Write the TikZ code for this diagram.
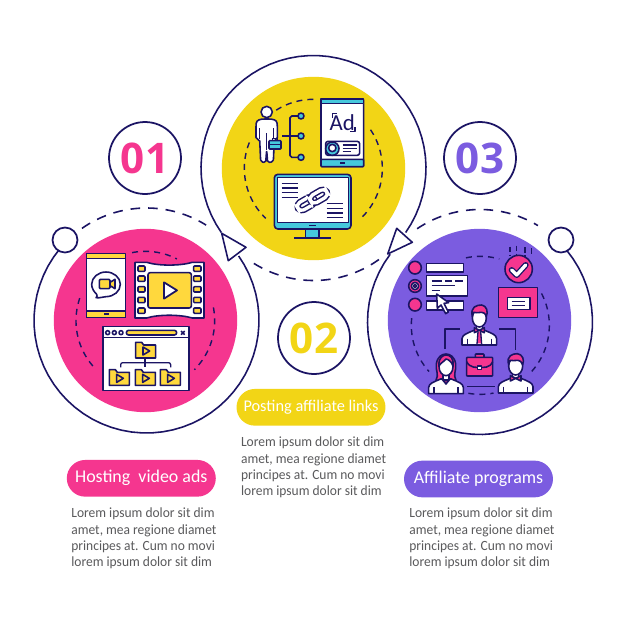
\documentclass[tikz,border=0pt]{standalone}
\usepackage{fontspec}
\setmainfont{Carlito}
\newfontfamily\bodyf{Carlito}
\newfontfamily\paraf[FakeStretch=0.96]{Carlito}
\newfontfamily\numf{Open Sans}
\definecolor{navy}{HTML}{1B1464}
\definecolor{cpink}{HTML}{F5368F}
\definecolor{cyellow}{HTML}{F2D516}
\definecolor{cpurple}{HTML}{7B5CE0}
\definecolor{iyellow}{HTML}{FFD83D}
\definecolor{icyan}{HTML}{46C8DC}
\definecolor{gtext}{HTML}{5A5A5C}
\tikzset{
 ln/.style={draw=navy,line width=0.9pt,line join=round},
 thin ln/.style={draw=navy,line width=0.75pt,line join=round},
 bigdisc/.style={circle,minimum size=3.668cm,inner sep=0pt},
 numring/.style={circle,draw=navy,line width=1pt,fill=white,minimum size=1.44cm,inner sep=0pt},
 numtext/.style={font=\numf\bfseries\fontsize{24}{24}\selectfont},
 pill/.style={minimum width=2.98cm,minimum height=0.734cm,rounded corners=0.367cm,inner sep=0pt,text=white,font=\bodyf\fontsize{10.2}{11}\selectfont},
 para/.style={anchor=north west,align=left,inner sep=0pt,text=gtext,font=\paraf\fontsize{8}{9.35}\selectfont},
 outerdash/.style={draw=navy,line width=0.9pt,dash pattern=on 5.5pt off 4.5pt},
 innerdash/.style={draw=navy,line width=0.8pt,dash pattern=on 3.4pt off 2.9pt},
 knob/.style={circle,draw=navy,line width=1pt,fill=white,minimum size=0.5cm,inner sep=0pt},
}
\newcommand{\arcp}[6]{\draw[#6] plot[domain=#4:#5,samples=50] ({#1+#3*cos(\x)},{#2-#3*sin(\x)});}
\newcommand{\folderic}[2]{%
 \begin{scope}[shift={(#1,#2)}]
 \draw[ln,fill=iyellow] (0,0) -- (0,47) -- (60,47) -- (60,8) -- (24,8) -- (18,0) -- cycle;
 \draw[ln] (22,14) -- (22,38) -- (42,26) -- cycle;
 \end{scope}}
\newcommand{\pers}[3]{%
 \begin{scope}[shift={(#1,#2)}]
 #3
 \draw[ln,fill=white] (-52,81) -- (-52,62) .. controls (-50,50) and (-40,47) .. (-16,37) -- (16,37) .. controls (40,47) and (50,50) .. (52,62) -- (52,81) -- cycle;
 \draw[ln] (-36,62) -- (-36,81) (36,62) -- (36,81);
 \draw[ln,fill=white] (-9,18) -- (-9,38) -- (9,38) -- (9,18);
 \draw[ln,fill=white] (0,0) ellipse (21 and 27);
 \end{scope}}
\begin{document}
\begin{tikzpicture}[x=0.02cm,y=-0.02cm]
\useasboundingbox (0,0) rectangle (626,626);
\fill[white] (0,0) rectangle (626,626);
% discs
\node[bigdisc,fill=cpink] (dpink) at (145.5,320.5) {};
\node[bigdisc,fill=cyellow] (dyellow) at (313.5,168.5) {};
\node[bigdisc,fill=cpurple] (dpurple) at (479.5,320.5) {};
% outer arcs
\arcp{146.5}{320.5}{112.5}{135}{395}{ln}
\arcp{313.5}{168}{112.5}{215}{-35}{ln}
\arcp{480}{322}{112.5}{45}{-217}{ln}
\arcp{146.5}{320.5}{112.5}{125}{58}{outerdash}
\arcp{313.5}{168}{112.5}{238}{306}{outerdash}
\arcp{480}{322}{112.5}{124}{59}{outerdash}
% knobs and triangles
\node[knob] (k1) at (65,240) {};
\node[knob] (k2) at (561,240) {};
\draw[ln,fill=white] (221.7,233.3) -- (246,247.3) -- (228.3,260.7) -- cycle;
\draw[ln,fill=white] (396.7,228.3) -- (412.3,242.3) -- (387.7,254) -- cycle;
% numbers
\node[numring,text=cpink,numtext] (n1) at (145,158) {01};
\node[numring,text=cyellow,numtext] (n2) at (314,338) {02};
\node[numring,text=cpurple,numtext] (n3) at (480,158) {03};
% pills
\node[pill,fill=cpink] (p1) at (141.3,478.3) {Hosting\ \ video ads};
\node[pill,fill=cyellow,font=\bodyf\fontsize{9.3}{11}\selectfont] (p2) at (311,407.3) {Posting affiliate links};
\node[pill,fill=cpurple] (p3) at (478.5,479) {Affiliate programs};
% paragraphs
\node[para] (t1) at (71,507.5) {Lorem ipsum dolor sit dim\\amet, mea regione diamet\\principes at. Cum no movi\\lorem ipsum dolor sit dim};
\node[para] (t2) at (240.7,436.5) {Lorem ipsum dolor sit dim\\amet, mea regione diamet\\principes at. Cum no movi\\lorem ipsum dolor sit dim};
\node[para] (t3) at (409,507.5) {Lorem ipsum dolor sit dim\\amet, mea regione diamet\\principes at. Cum no movi\\lorem ipsum dolor sit dim};
% ---------- icon 1
\begin{scope}[shift={(30,190)},scale=1/3]
\arcp{346}{392}{208}{101}{63}{innerdash}
\arcp{346}{392}{208}{161}{224}{innerdash}
\arcp{346}{392}{208}{11}{-45}{innerdash}
% phone
\draw[ln,fill=white] (170,190) rectangle (287,382);
\draw[ln,fill=iyellow] (170,190) rectangle (287,205);
\draw[ln,fill=iyellow] (170,363) rectangle (287,382);
\fill[navy] (222,370) rectangle (236,374);
\draw[ln,fill=white] (200,313) .. controls (192,305) and (185,295) .. (185,283) .. controls (185,262) and (205,246) .. (228,246) .. controls (251,246) and (271,262) .. (271,283) .. controls (271,304) and (251,320) .. (228,320) .. controls (218,320) and (210,325) .. (198,323) .. controls (202,320) and (202,317) .. (200,313) -- cycle;
\draw[ln,fill=iyellow,rounded corners=0.6pt] (208,268) rectangle (240,296);
\draw[ln,fill=iyellow] (240,277) -- (255,268) -- (255,296) -- (240,287) -- cycle;
% film
\draw[ln,fill=white] (315,217) -- (350,217) .. controls (385,228) and (450,228) .. (487,217) -- (522,217) -- (522,384) -- (487,384) .. controls (450,373) and (385,373) .. (350,384) -- (315,384) -- cycle;
\foreach \yy in {236,266,298,330,362}{
 \draw[ln,fill=iyellow,rounded corners=0.5pt] (324,\yy-8) rectangle (345,\yy+8);
 \draw[ln,fill=iyellow,rounded corners=0.5pt] (491,\yy-8) rectangle (513,\yy+8);
}
\draw[ln,fill=iyellow,rounded corners=1.2pt] (354,248) rectangle (484,354);
\draw[ln,fill=white,line width=1pt] (402,277) -- (402,326) -- (441,301) -- cycle;
% browser
\draw[ln,fill=white] (219,410) rectangle (477,602);
\draw[ln] (219,442) -- (477,442);
\foreach \xx in {233,253,273}{\draw[ln,fill=white] (\xx,428) circle (6);}
\draw[ln,fill=iyellow,rounded corners=1.3pt] (289,421) rectangle (440,435);
\draw[ln] (453,423) -- (464,434) (464,423) -- (453,434);
\draw[thin ln,rounded corners=1.2pt] (272,532) -- (272,518) -- (422,518) -- (422,532);
\draw[thin ln] (345,504) -- (345,532);
\folderic{317}{457}
\folderic{238}{539}
\folderic{316}{539}
\folderic{391}{539}
\end{scope}
% ---------- icon 2
\begin{scope}[shift={(195,50)},scale=1/3]
\arcp{355}{355}{207}{90}{123}{innerdash}
\arcp{355}{355}{207}{158}{226.5}{innerdash}
\arcp{355}{355}{207}{34}{-47}{innerdash}
% person
\draw[ln,fill=white,rounded corners=1pt] (183,268) -- (183,225) .. controls (185,210) and (195,207) .. (215,207) .. controls (235,207) and (245,210) .. (247,225) -- (247,268) -- (238,268) -- (235,335) -- (218,338) -- (215,300) -- (212,338) -- (197,335) -- (194,268) -- cycle;
\draw[ln] (194,235) -- (194,268) (236,235) -- (236,268);
\draw[ln] (215,250) -- (215,300);
\draw[ln,fill=white] (215,186) circle (17);
\draw[ln] (232,272) -- (232,265) -- (248,265) -- (248,272);
\draw[ln,fill=icyan,rounded corners=0.4pt] (222,272) rectangle (258,297);
\draw[ln] (222,284) -- (258,284);
\draw[ln,rounded corners=1pt] (318,198) -- (285,198) -- (285,322) -- (318,322);
\draw[ln] (262,258) -- (318,258);
\foreach \yy in {198,258,322}{\draw[ln,fill=icyan] (318,\yy) circle (9);}
% tablet
\draw[ln,fill=white,rounded corners=0.7pt] (378,147) rectangle (506,350);
\draw[ln,fill=icyan] (378,147) rectangle (506,161);
\draw[ln,fill=icyan,rounded corners=0.5pt] (378,328) rectangle (506,350);
\fill[navy] (436,337) rectangle (450,341);
\node[text=navy,font=\bodyf\fontsize{13}{13}\selectfont] (adtxt) at (442,219) {Ad};
\draw[ln] (412,204) -- (412,191) -- (426,191);
\draw[ln] (480,232) -- (480,245) -- (466,245);
\draw[ln,fill=white,rounded corners=1.4pt] (392,274) rectangle (494,316);
\draw[ln,fill=icyan] (412,296) circle (20);
\draw[ln,fill=white] (412,294) circle (11);
\draw[thin ln] (443,285) -- (485,285) (443,295) -- (485,295) (443,305) -- (468,305);
% monitor
\draw[ln,fill=icyan] (332,535) rectangle (372,563);
\draw[ln] (298,564) -- (407,564);
\draw[ln,fill=icyan,rounded corners=2pt] (238,373) rectangle (468,537);
\draw[ln,fill=white] (247,383) rectangle (460,518);
\fill[navy] (342,525) rectangle (362,529);
\foreach \yy in {400,414,428,443}{\draw[thin ln] (260,\yy) -- (308,\yy);}
\foreach \yy in {461,475,489,503}{\draw[thin ln] (395,\yy) -- (445,\yy);}
\begin{scope}[shift={(352,450)},rotate=30]
\draw[ln,line width=3.6pt,rounded corners=2.6pt] (-50,-13) rectangle (6,13);
\draw[draw=white,line width=1.9pt,rounded corners=2.6pt] (-50,-13) rectangle (6,13);
\draw[ln,line width=3.6pt,rounded corners=2.6pt] (-6,-13) rectangle (50,13);
\draw[draw=white,line width=1.9pt,rounded corners=2.6pt] (-6,-13) rectangle (50,13);
\end{scope}
\end{scope}
% ---------- icon 3
\begin{scope}[shift={(360,215)},scale=1/3]
\arcp{361}{331}{207}{102}{74}{innerdash}
\arcp{361}{331}{207}{27.5}{-46}{innerdash}
\arcp{361}{331}{207}{260}{281}{innerdash}
\arcp{361}{331}{207}{174}{222}{innerdash}
% form
\draw[ln,fill=cpink] (165,158) circle (19);
\draw[ln,fill=cpink] (165,213) circle (19);
\draw[ln,fill=white] (165,213) circle (11);
\draw[ln,fill=cpink] (165,213) circle (5);
\draw[ln,fill=cpink] (165,269) circle (19);
\draw[ln,fill=white] (200,145) rectangle (310,171);
\draw[ln,fill=white] (200,258) rectangle (310,285);
\draw[ln,fill=white] (200,182) rectangle (322,243);
\draw[thin ln] (215,198) -- (245,198) (255,198) -- (275,198) (285,198) -- (308,198);
\draw[thin ln] (215,212) -- (285,212);
\draw[thin ln] (215,226) -- (240,226);
\draw[ln,fill=white] (230,237) -- (232,280) -- (243,270) -- (257,296) -- (265,291) -- (252,265) -- (266,263) -- cycle;
% check
\foreach \xx/\ya/\yb in {450/95/122,470/92/120,495/97/125,515/100/122}{\draw[thin ln,dash pattern=on 3pt off 1.5pt] (\xx,\ya) -- (\xx,\yb);}
\draw[ln,fill=cpink] (476,162) circle (41);
\draw[navy,line width=3.4pt,line cap=round,line join=round] (455,165) -- (470,180) -- (497,150);
\draw[white,line width=1.9pt,line cap=round,line join=round] (455,165) -- (470,180) -- (497,150);
\draw[ln,fill=cpink] (416,218) rectangle (533,307);
\draw[ln,fill=white] (442,248) rectangle (510,283);
\draw[thin ln] (455,259) -- (495,259) (455,271) -- (495,271);
% org lines
\draw[ln] (255,402) -- (255,342) -- (300,342);
\draw[ln] (418,342) -- (466,342) -- (466,405);
\draw[ln] (322,514) -- (405,514);
% top person
\pers{358}{309}{}
\fill[cpink] (353,350) -- (363,350) -- (366,385) -- (350,385) -- cycle;
\draw[thin ln] (354,350) -- (351,388) (362,350) -- (365,388);
\draw[ln,fill=cpink] (358,346) -- (343,338) -- (343,353) -- cycle;
\draw[ln,fill=cpink] (358,346) -- (373,338) -- (373,353) -- cycle;
\draw[ln,fill=cpink] (337,305) .. controls (330,275) and (350,270) .. (365,270) .. controls (380,272) and (385,290) .. (379,305) .. controls (375,295) and (372,292) .. (365,292) .. controls (355,295) and (345,292) .. (340,292) .. controls (338,295) and (338,300) .. (337,305) -- cycle;
% woman
\pers{258}{455}{\draw[ln,fill=cpink] (-30,40) .. controls (-20,25) and (-32,10) .. (-29,-8) .. controls (-26,-30) and (-12,-38) .. (0,-38) .. controls (12,-38) and (26,-30) .. (29,-8) .. controls (32,10) and (20,25) .. (30,40) .. controls (18,48) and (8,45) .. (0,55) .. controls (-8,45) and (-18,48) .. (-30,40) -- cycle;}
\draw[ln,fill=cpink] (245,491) -- (258,507) -- (271,491) -- (258,497) -- cycle;
\draw[ln,fill=cpink] (237,453) .. controls (234,428) and (250,420) .. (258,420) .. controls (270,420) and (282,428) .. (279,453) .. controls (275,440) and (265,433) .. (258,432) .. controls (252,440) and (240,445) .. (237,453) -- cycle;
% man right
\pers{467}{453}{}
\draw[ln,fill=cpink] (467,490) -- (451,482) -- (451,498) -- cycle;
\draw[ln,fill=cpink] (467,490) -- (483,482) -- (483,498) -- cycle;
\draw[ln,fill=cpink] (446,449) .. controls (438,422) and (458,416) .. (472,416) .. controls (488,418) and (494,435) .. (488,449) .. controls (484,440) and (480,436) .. (474,436) .. controls (465,438) and (455,436) .. (450,436) .. controls (448,440) and (447,445) .. (446,449) -- cycle;
% briefcase
\draw[ln,fill=cpink,rounded corners=0.4pt] (346,427) -- (346,417) -- (372,417) -- (372,427);
\draw[ln,fill=cpink,rounded corners=0.4pt] (320,427) rectangle (398,483);
\draw[ln] (320,440) .. controls (330,460) and (350,457) .. (359,457) .. controls (370,457) and (390,460) .. (398,440);
\draw[ln,fill=white] (353,453) rectangle (365,463);
\end{scope}
\end{tikzpicture}
\end{document}
